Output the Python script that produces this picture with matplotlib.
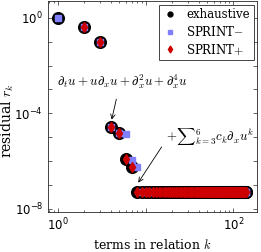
import matplotlib
matplotlib.use('Agg')
import matplotlib.pyplot as plt
from matplotlib.lines import Line2D
from matplotlib.ticker import LogLocator, NullFormatter, FixedFormatter, FixedLocator

plt.rcParams.update({'mathtext.fontset': 'cm', 'font.size': 8})

# residuals
plateau = 4.9e-8
n_max = 139
k_exh = list(range(1, n_max + 1))
r_exh = [1.0, 0.43, 0.10, 2.6e-5, 1.5e-5, 1.2e-6, 5.5e-7] + [plateau] * (n_max - 7)
k_minus = list(range(1, n_max + 1))
r_minus = [1.0, 0.43, 0.10, 2.6e-5, 1.5e-5, 1.3e-5, 1.1e-6, 5.5e-7] + [plateau] * (n_max - 8)
k_plus = list(range(2, n_max + 1))
r_plus = [0.43, 0.10, 2.6e-5, 1.5e-5, 1.2e-6, 5.5e-7] + [plateau] * (n_max - 7)

blue = '#8080ff'
red = '#cc0000'
grey = '#262626'

fig = plt.figure(figsize=(2.61, 2.52), dpi=100)
ax = fig.add_axes([0.184, 0.159, 0.801, 0.837])

ax.plot(k_exh, r_exh, 'o', color='k', markersize=8.4, linestyle='none')
ax.plot(k_minus, r_minus, 's', color=blue, markersize=5, linestyle='none')
ax.plot(k_plus, r_plus, 'd', color=red, markersize=5, linestyle='none')

ax.set_xscale('log')
ax.set_yscale('log')
ax.set_xlim(0.77, 186)
ax.set_ylim(7.4e-9, 5.1)

# ticks like the original: every decade, labels every few
ax.yaxis.set_major_locator(FixedLocator([10.0 ** e for e in range(-8, 1)]))
ax.yaxis.set_major_formatter(FixedFormatter(['$\\mathregular{10^{-8}}$', '', '', '',
                                              '$\\mathregular{10^{-4}}$', '', '', '',
                                              '$\\mathregular{10^{0}}$']))
ax.yaxis.set_minor_locator(FixedLocator([]))
ax.xaxis.set_major_locator(FixedLocator([1, 10, 100]))
ax.xaxis.set_major_formatter(FixedFormatter(['$\\mathregular{10^{0}}$', '', '$\\mathregular{10^{2}}$']))
ax.xaxis.set_minor_locator(LogLocator(base=10, subs=range(2, 10)))
ax.xaxis.set_minor_formatter(NullFormatter())
ax.tick_params(which='both', direction='in', top=True, right=True, colors=grey,
               labelcolor='k', labelsize=8.5)
ax.tick_params(which='major', length=3, width=0.5, pad=3.5)
ax.tick_params(which='minor', length=1.5, width=0.5)
for s in ax.spines.values():
    s.set_color(grey)
    s.set_linewidth(0.6)

ax.set_xlabel('terms in relation $k$', family='serif', fontsize=9)
ax.xaxis.set_label_coords(0.5, -0.125)
ax.set_ylabel('residual $r_k$', family='serif', fontsize=10, va='center')
ax.yaxis.set_label_coords(-0.195, 0.43)

ax.annotate('', xy=(4.03, 4.2e-5), xytext=(4.7, 5.1e-4),
            arrowprops=dict(arrowstyle='->', lw=0.6, color='k'))
ax.text(5.5, 2.1e-3, r'$\partial_t u + u\partial_x u + \partial_x^2 u + \partial_x^4 u$',
        ha='center', va='center', fontsize=9.3)
ax.annotate('', xy=(7.9, 1.0e-7), xytext=(15.8, 4.9e-6),
            arrowprops=dict(arrowstyle='->', lw=0.6, color='k'))
ax.text(54.6, 1.05e-5, r'$+{\sum}_{k=3}^{6}c_k\partial_x u^k$',
        ha='center', va='center', fontsize=9.3)

handles = [Line2D([], [], marker='o', color='k', linestyle='none', markersize=3.5),
           Line2D([], [], marker='s', color=blue, linestyle='none', markersize=3),
           Line2D([], [], marker='d', color=red, linestyle='none', markersize=3.5)]
leg = ax.legend(handles, ['exhaustive', 'SPRINT$-$', 'SPRINT$+$'], loc='upper right',
                prop={'family': 'serif', 'size': 8.5}, fancybox=False, edgecolor=grey,
                handlelength=1.2, handletextpad=0.8, borderpad=0.3, labelspacing=0.3,
                borderaxespad=0.3, framealpha=1)
leg.get_frame().set_linewidth(0.6)

fig.savefig('out.png', dpi=100)
